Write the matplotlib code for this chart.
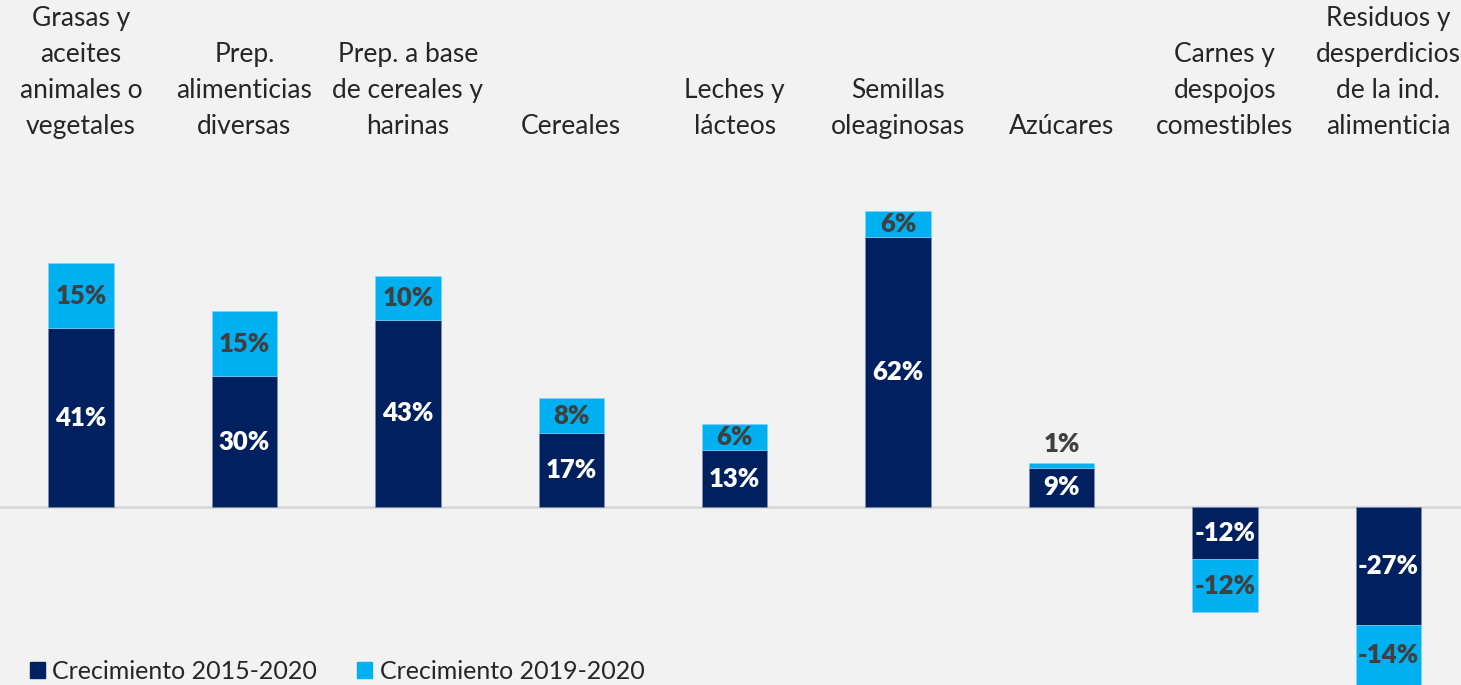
import matplotlib
matplotlib.use('Agg')
import matplotlib.pyplot as plt
import matplotlib.patches as mpatches
import numpy as np

plt.rcParams['font.family'] = ['Lato', 'DejaVu Sans']

categorias = ['Grasas y\naceites\nanimales o\nvegetales', 'Prep.\nalimenticias\ndiversas',
              'Prep. a base\nde cereales y\nharinas', 'Cereales', 'Leches y\nlácteos',
              'Semillas\noleaginosas', 'Azúcares', 'Carnes y\ndespojos\ncomestibles',
              'Residuos y\ndesperdicios\nde la ind.\nalimenticia']
crec_2015_2020 = [41, 30, 43, 17, 13, 62, 9, -12, -27]
crec_2019_2020 = [15, 15, 10, 8, 6, 6, 1, -12, -14]
series = ['Crecimiento 2015-2020', 'Crecimiento 2019-2020']

azul_oscuro = '#002060'
azul_claro = '#00B0F0'
gris_texto = '#404040'
fondo = '#F2F2F2'

fig = plt.figure(figsize=(14.61, 6.85), dpi=100, facecolor=fondo)
ax = fig.add_axes([0, 0, 1, 1])
ax.set_facecolor(fondo)

x = np.arange(len(categorias))
ancho = 0.4
ax.bar(x, crec_2015_2020, width=ancho, color=azul_oscuro, edgecolor='#8090B0', linewidth=0.4)
ax.bar(x, crec_2019_2020, width=ancho, bottom=crec_2015_2020, color=azul_claro,
       edgecolor='#80D8F8', linewidth=0.4)

ax.axhline(0, color='#D9D9D9', linewidth=2, zorder=0)

for i in x:
    v1 = crec_2015_2020[i]
    v2 = crec_2019_2020[i]
    ax.text(i, v1 / 2, f'{v1}%', ha='center', va='center', color='white',
            fontsize=18.5, fontweight='heavy')
    if abs(v2) < 3:
        y2 = v1 + v2 + 4.5
    else:
        y2 = v1 + v2 / 2
    ax.text(i, y2, f'{v2}%', ha='center', va='center', color=gris_texto,
            fontsize=18.5, fontweight='heavy')
    ax.text(i, 84.5, categorias[i], ha='center', va='bottom', color='#262626',
            fontsize=19, linespacing=1.55)

ax.set_xlim(-0.496, 8.445)
ax.set_ylim(-40.8, 116.3)
ax.axis('off')

handles = [mpatches.Patch(color=azul_oscuro), mpatches.Patch(color=azul_claro)]
fig.legend(handles, series, loc='lower left', bbox_to_anchor=(0.005, -0.03), ncol=2,
           frameon=False, fontsize=18, handlelength=0.6, handleheight=0.6,
           handletextpad=0.3, columnspacing=1.6, labelcolor='#262626')

fig.savefig('out.png', dpi=100, facecolor=fondo)
